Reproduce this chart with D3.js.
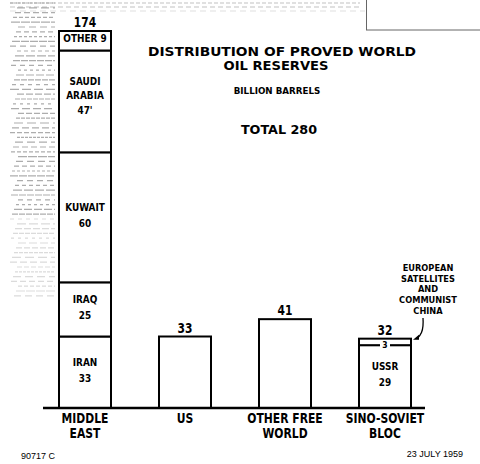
<!DOCTYPE html>
<html>
<head>
<meta charset="utf-8">
<script src="https://cdn.jsdelivr.net/npm/d3@7"></script>
<style>
  body { margin: 0; background: #fff; }
  svg { display: block; }
  .cond { font-family: "DejaVu Sans", "Liberation Sans", sans-serif; font-weight: bold; }
  .wide { font-family: "DejaVu Sans", "Liberation Sans", sans-serif; font-weight: bold; }
</style>
</head>
<body>
<div id="chart"></div>
<script>
// regions (x axis) and their label lines
const categories = ["MIDDLE EAST", "US", "OTHER FREE WORLD", "SINO-SOVIET BLOC"];
const categoryLines = [["MIDDLE", "EAST"], ["US"], ["OTHER FREE", "WORLD"], ["SINO-SOVIET", "BLOC"]];
// totals shown over each bar, billion barrels
const totals = [174, 33, 41, 32];
// stacked pieces, bottom to top
const segCategory = ["MIDDLE EAST", "MIDDLE EAST", "MIDDLE EAST", "MIDDLE EAST", "MIDDLE EAST", "US", "OTHER FREE WORLD", "SINO-SOVIET BLOC", "SINO-SOVIET BLOC"];
const segValue = [33, 25, 60, 47, 9, 33, 41, 29, 3];
const segLabel = [["IRAN", "33"], ["IRAQ", "25"], ["KUWAIT", "60"], ["SAUDI", "ARABIA", "47'"], ["OTHER 9"], [], [], ["USSR", "29"], ["3"]];

const width = 480, height = 464;
const baseY = 408;

const svg = d3.select("#chart").append("svg")
  .attr("width", width)
  .attr("height", height);

// squeezed bold text, the print uses a narrow gothic face
function condText(g, cx, cy, str, size, sx) {
  return g.append("text")
    .attr("class", "cond")
    .attr("text-anchor", "middle")
    .attr("transform", `translate(${cx},${cy}) scale(${sx},1)`)
    .attr("font-size", size)
    .text(str);
}

// faint scan noise on the left edge and along the top
const noise = svg.append("g").attr("stroke", "#999").attr("stroke-width", 1.2);
d3.range(0, 62).forEach(i => {
  const yy = 3 + i * 4.8;
  noise.append("line")
    .attr("x1", 10 + (i * 7) % 9).attr("x2", 55)
    .attr("y1", yy).attr("y2", yy)
    .attr("stroke-dasharray", `${3 + (i * 5) % 7},${1 + (i * 3) % 4}`)
    .attr("opacity", i < 45 ? 0.8 : 0.35);
});
d3.range(0, 3).forEach(i => {
  noise.append("line")
    .attr("x1", 10).attr("x2", i === 2 ? 365 : 360)
    .attr("y1", 3 + i * 4).attr("y2", 3 + i * 4)
    .attr("stroke-dasharray", `${4 + i},${2 + i}`)
    .attr("opacity", i === 2 ? 0.3 : 0.6);
});

const x = d3.scaleBand()
  .domain(categories)
  .range([35, 435])
  .paddingInner(0.48)
  .paddingOuter(0.24);

const y = d3.scaleLinear()
  .domain([0, d3.max(totals)])
  .range([baseY, 31]);

// build stacked rows
const cum = {};
const segs = segValue.map((v, i) => {
  const c = segCategory[i];
  const y0 = cum[c] || 0;
  cum[c] = y0 + v;
  return {cat: c, y0: y0, y1: y0 + v, lines: segLabel[i]};
});

// top right box
svg.append("rect")
  .attr("x", 366.5).attr("y", -1).attr("width", 120).attr("height", 31)
  .attr("fill", "none").attr("stroke", "#666").attr("stroke-width", 1);

// segments
svg.append("g").selectAll("rect")
  .data(segs)
  .join("rect")
  .attr("x", d => x(d.cat))
  .attr("y", d => y(d.y1))
  .attr("width", x.bandwidth())
  .attr("height", d => y(d.y0) - y(d.y1))
  .attr("fill", "#fff")
  .attr("stroke", "#000")
  .attr("stroke-width", 2);

// labels inside segments
const segText = svg.append("g");
segs.forEach(d => {
  if (!d.lines.length) return;
  const cx = x(d.cat) + x.bandwidth() / 2;
  const h = y(d.y0) - y(d.y1);
  const mid = (y(d.y0) + y(d.y1)) / 2;
  if (h < 10) {
    // tiny piece: number sits on a gap in the inner line
    const ly = y(d.y0);
    segText.append("rect").attr("x", cx - 5).attr("y", ly - 3).attr("width", 10).attr("height", 6).attr("fill", "#fff");
    condText(segText, cx, ly + 3.3, d.lines[0], 9, 0.85);
    return;
  }
  const n = d.lines.length;
  const lh = n === 3 ? 14.5 : (n === 2 ? 16 : 0);
  const off = n === 3 ? -6 : -2;
  d.lines.forEach((t, j) => {
    condText(segText, cx, mid + off + (j - (n - 1) / 2) * lh + 3.7, t, 10.5, 0.85);
  });
});

// totals over bars
const totG = svg.append("g");
categories.forEach((c, i) => {
  condText(totG, x(c) + x.bandwidth() / 2, y(totals[i]) - 4, totals[i], 14.5, 0.74);
});

// baseline
svg.append("line")
  .attr("x1", 43).attr("x2", 425)
  .attr("y1", baseY).attr("y2", baseY)
  .attr("stroke", "#000").attr("stroke-width", 2.5);

// category labels
const catG = svg.append("g");
categories.forEach((c, i) => {
  categoryLines[i].forEach((t, j) => {
    condText(catG, x(c) + x.bandwidth() / 2, 423 + j * 14.5, t, 13.5, 0.8);
  });
});

// title block
const tG = svg.append("g").attr("class", "wide").attr("text-anchor", "middle");
tG.append("text").attr("x", 282).attr("y", 55.5).attr("font-size", 12.5)
  .attr("textLength", 268).attr("lengthAdjust", "spacingAndGlyphs").text("DISTRIBUTION OF PROVED WORLD");
tG.append("text").attr("x", 276).attr("y", 70).attr("font-size", 12.5)
  .attr("textLength", 105).attr("lengthAdjust", "spacingAndGlyphs").text("OIL RESERVES");
condText(svg, 277, 94, "BILLION BARRELS", 9, 0.97);
condText(svg, 279, 134, "TOTAL  " + d3.sum(totals), 13, 0.98);

// annotation for the small top piece
const aG = svg.append("g");
["EUROPEAN", "SATELLITES", "AND", "COMMUNIST", "CHINA"].forEach((t, j) => {
  condText(aG, 428, 271 + j * 10.7, t, 9.5, 0.87);
});
const tip = [x("SINO-SOVIET BLOC") + x.bandwidth() + 2, y(32) + 1];
svg.append("path")
  .attr("d", `M423,318 C424,332 420,336 ${tip[0] + 4},${tip[1] - 1}`)
  .attr("fill", "none").attr("stroke", "#000").attr("stroke-width", 1.3);
svg.append("path")
  .attr("d", `M${tip[0]},${tip[1]} l6,-5 l0,5 z`)
  .attr("fill", "#000");

// footer
svg.append("text").attr("x", 21).attr("y", 459).attr("font-family", "Liberation Sans, sans-serif")
  .attr("font-size", 9).text("90717 C");
svg.append("text").attr("x", 463).attr("y", 457).attr("text-anchor", "end").attr("font-family", "Liberation Sans, sans-serif")
  .attr("font-size", 9).text("23 JULY 1959");
</script>
</body>
</html>
